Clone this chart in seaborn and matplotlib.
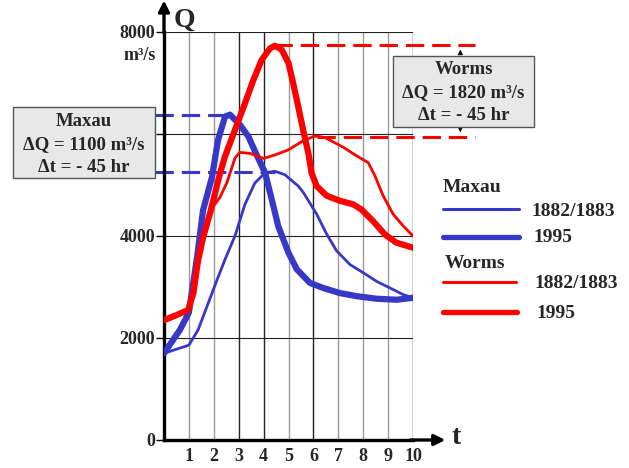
import numpy as np
import pandas as pd
import matplotlib
matplotlib.use("Agg")
import matplotlib.pyplot as plt
from matplotlib.patches import Rectangle
from matplotlib.lines import Line2D
import seaborn as sns

# ---------------- data ----------------
maxau_1882_t = [0, 1, 1.37, 2.13, 2.45, 2.85, 3.25, 3.65, 4.06, 4.46, 4.86, 5.39, 5.6,
                6.13, 6.53, 6.93, 7.47, 8, 8.54, 9.08, 9.61, 10]
maxau_1882_q = [1700, 1860, 2160, 3140, 3540, 4000, 4620, 5040, 5240, 5270, 5200, 4980, 4850,
                4430, 4040, 3710, 3440, 3280, 3110, 2980, 2850, 2790]

maxau_1995_t = [0, 0.64, 1, 1.33, 1.57, 1.93, 2.17, 2.45, 2.65, 3.05, 3.39, 3.72, 4.06, 4.33,
                4.59, 5.0, 5.33, 5.86, 6.4, 7.07, 7.74, 8.54, 9.35, 10]
maxau_1995_q = [1700, 2160, 2500, 3590, 4510, 5160, 5880, 6340, 6380, 6180, 5950, 5590, 5240, 4710,
                4190, 3670, 3350, 3080, 2980, 2880, 2820, 2770, 2750, 2790]

worms_1882_t = [0, 0.51, 0.97, 1.18, 1.37, 1.58, 1.73, 1.98, 2.25, 2.52, 2.65, 2.85, 3.05, 3.45,
                4.0, 4.46, 5.0, 5.53, 6.0, 6.13, 6.47, 7.2, 7.74, 8.2, 8.47, 8.8, 9.2, 9.6, 10]
worms_1882_q = [2350, 2450, 2550, 2880, 3530, 3990, 4250, 4580, 4760, 5040, 5230, 5530, 5640, 5620,
                5520, 5590, 5690, 5850, 5950, 5960, 5930, 5740, 5570, 5440, 5180, 4790, 4430, 4200, 4000]

worms_1995_t = [0, 0.51, 0.97, 1.18, 1.37, 1.58, 1.85, 2.05, 2.25, 2.45, 2.85, 3.25, 3.59, 3.92,
                4.26, 4.46, 4.73, 5.0, 5.19, 5.39, 5.6, 5.8, 5.93, 6.13, 6.53, 7.07, 7.6, 7.93,
                8.4, 8.87, 9.33, 10]
worms_1995_q = [2350, 2450, 2550, 2880, 3530, 3990, 4450, 4840, 5230, 5560, 6080, 6600, 7060, 7450,
                7680, 7730, 7650, 7390, 6990, 6540, 6050, 5620, 5230, 4980, 4790, 4690, 4620, 4520,
                4290, 4030, 3870, 3770]

x_ticks = [1, 2, 3, 4, 5, 6, 7, 8, 9, 10]
y_ticks = [0, 2000, 4000, 6000, 8000]
y_tick_labels = ["0", "2000", "4000", "", "8000"]

maxau_peak_1882 = 5260
maxau_peak_1995 = 6370
worms_peak_1882 = 5950
worms_peak_1995 = 7740

BLUE = "#3838c8"
RED = "#ff0000"

# ---------------- figure ----------------
sns.set_style("white")
plt.rcParams["font.family"] = ["Liberation Serif", "DejaVu Serif"]
plt.rcParams["font.weight"] = "bold"

W, H = 629, 468
fig = plt.figure(figsize=(W / 100, H / 100), dpi=100)
ax = fig.add_axes([164 / W, 28 / H, 249 / W, 408 / H])
ax.set_xlim(0, 10)
ax.set_ylim(0, 8000)
ax.patch.set_alpha(0)

# grid
grid_cols = ["#9a9a9a", "#9a9a9a", "#222222", "#222222", "#9a9a9a",
             "#222222", "#9a9a9a", "#9a9a9a", "#9a9a9a", "#222222"]
for xv, c in zip(x_ticks, grid_cols):
    ax.vlines(xv, 0, 8000, color=c, lw=1.0, zorder=1)
for yv in [2000, 4000, 6000, 8000]:
    ax.hlines(yv, 0, 10, color="#222222", lw=0.8, zorder=1)

# curves
kw = dict(ax=ax, sort=False, estimator=None)
sns.lineplot(x=maxau_1882_t, y=maxau_1882_q, color=BLUE, lw=2.0, zorder=3, **kw)
sns.lineplot(x=maxau_1995_t, y=maxau_1995_q, color=BLUE, lw=4.5, zorder=3, **kw)
sns.lineplot(x=worms_1882_t, y=worms_1882_q, color=RED, lw=2.0, zorder=4, **kw)
sns.lineplot(x=worms_1995_t, y=worms_1995_q, color=RED, lw=4.5, zorder=4, **kw)
for l in ax.lines:
    l.set_solid_joinstyle("round")
    l.set_solid_capstyle("round")

# dashed peak markers
dash = dict(lw=2.2, ls=(0, (6, 2.6)), clip_on=False, zorder=2)
ax.plot([-0.36, 2.65], [maxau_peak_1995] * 2, color=BLUE, **dash)
ax.plot([-0.36, 4.45], [maxau_peak_1882] * 2, color=BLUE, **dash)
ax.plot([4.4, 12.5], [worms_peak_1995] * 2, color=RED, **dash)
ax.plot([6.14, 12.5], [worms_peak_1882] * 2, color=RED, **dash)

# small arrows near Worms box
ax.annotate("", xy=(11.9, worms_peak_1995 - 30), xytext=(11.9, 7530),
            arrowprops=dict(arrowstyle="-|>", lw=0.8, color="black", mutation_scale=7),
            annotation_clip=False)
ax.annotate("", xy=(11.9, worms_peak_1882 + 30), xytext=(11.9, 6137),
            arrowprops=dict(arrowstyle="-|>", lw=0.8, color="black", mutation_scale=7),
            annotation_clip=False)

# spines / axes
for s in ["top", "right"]:
    ax.spines[s].set_visible(False)
for s in ["left", "bottom"]:
    ax.spines[s].set_linewidth(2.4)
    ax.spines[s].set_color("black")
ax.annotate("", xy=(0, 8620), xytext=(0, 7980),
            arrowprops=dict(arrowstyle="-|>", lw=2.4, color="black", mutation_scale=16,
                            shrinkA=0, shrinkB=0),
            annotation_clip=False)
ax.annotate("", xy=(11.3, 0), xytext=(9.9, 0),
            arrowprops=dict(arrowstyle="-|>", lw=2.4, color="black", mutation_scale=16,
                            shrinkA=0, shrinkB=0),
            annotation_clip=False)

ax.set_xticks(x_ticks)
ax.set_xticklabels([str(v) for v in x_ticks], fontsize=13, fontweight="bold")
ax.set_yticks(y_ticks)
ax.set_yticklabels(y_tick_labels, fontsize=13, fontweight="bold")
ax.tick_params(axis="x", length=0, pad=6)
ax.tick_params(axis="y", length=6, width=1.0, pad=0.5, color="black", left=True)
ax.set_xlabel("")
ax.set_ylabel("")

fig.text(156 / W, 1 - 55 / H, "m³/s", ha="right", va="center", fontsize=13, fontweight="bold")
fig.text(174 / W, 1 - 20 / H, "Q", ha="left", va="center", fontsize=20, fontweight="bold")
fig.text(451 / W, 1 - 438 / H, "t", ha="left", va="center", fontsize=20, fontweight="bold")

# annotation boxes
def box(x0, y0, x1, y1, lines, ys):
    fig.add_artist(Rectangle((x0 / W, 1 - y1 / H), (x1 - x0) / W, (y1 - y0) / H,
                             transform=fig.transFigure, facecolor="#e8e8e8",
                             edgecolor="#555555", lw=1.0, zorder=5))
    cx = (x0 + x1) / 2
    for t, yy in zip(lines, ys):
        fig.text(cx / W, 1 - yy / H, t, ha="center", va="center", fontsize=13.5,
                 fontweight="bold", zorder=6)

box(13, 107, 155, 178, ["Maxau", "ΔQ = 1100 m³/s", "Δt = - 45 hr"], [122, 145, 167])
box(393, 56, 534, 127, ["Worms", "ΔQ = 1820 m³/s", "Δt = - 45 hr"], [70, 93, 115])

# legend (manual)
def leg_line(x0, x1, y, color, lw):
    fig.add_artist(Line2D([x0 / W, x1 / W], [1 - y / H, 1 - y / H], transform=fig.transFigure,
                          color=color, lw=lw))

fig.text(443 / W, 1 - 187 / H, "Maxau", ha="left", va="center", fontsize=14, fontweight="bold")
leg_line(443, 519, 209, BLUE, 2.2)
leg_line(443, 519, 237, BLUE, 3.8)
fig.text(531 / W, 1 - 211 / H, "1882/1883", ha="left", va="center", fontsize=14, fontweight="bold")
fig.text(533 / W, 1 - 238 / H, "1995", ha="left", va="center", fontsize=14, fontweight="bold")
fig.text(445 / W, 1 - 264 / H, "Worms", ha="left", va="center", fontsize=14, fontweight="bold")
leg_line(443, 516, 282, RED, 2.2)
leg_line(443, 517, 312, RED, 3.8)
fig.text(534 / W, 1 - 283 / H, "1882/1883", ha="left", va="center", fontsize=14, fontweight="bold")
fig.text(536 / W, 1 - 313 / H, "1995", ha="left", va="center", fontsize=14, fontweight="bold")

fig.savefig("out.png", dpi=100)
